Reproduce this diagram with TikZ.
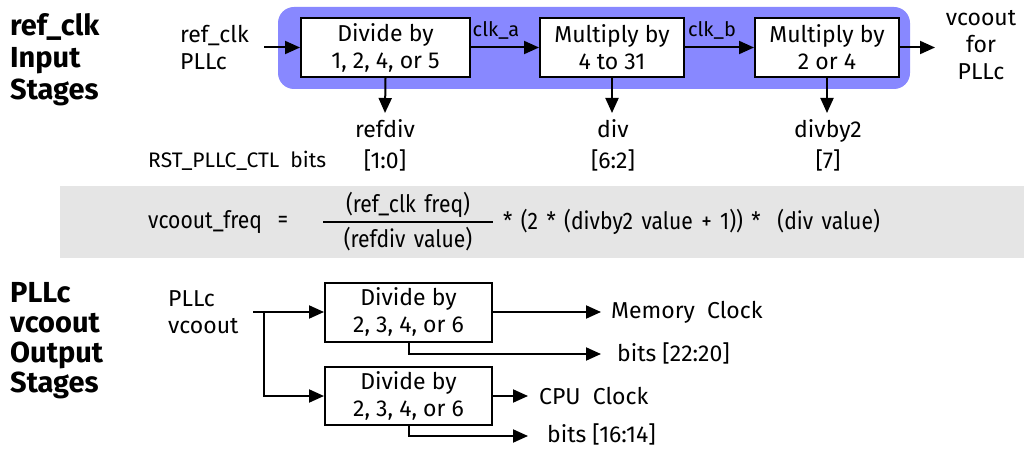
\documentclass[tikz,border=0pt]{standalone}
\usepackage{fontspec}
\setmainfont{Fira Sans}
\newfontfamily\narrowfont{Fira Sans}[FakeStretch=0.88, WordSpace=1.5]
\usetikzlibrary{arrows.meta}
\usetikzlibrary{positioning}
\definecolor{stageblue}{RGB}{136,136,255}
\definecolor{formulagray}{RGB}{229,229,229}
\tikzset {
  wire/.style = {
    draw = black,
    line width = 2pt
  },
  % wire ending in a filled triangle
  sig/.style = {
    wire,
    -{Triangle[length=15pt,width=13pt]}
  }
}
\tikzset {
  % processing stage
  stage/.style = {
    draw = black,
    fill = white,
    line width = 2pt,
    rectangle,
    align = center,
    inner sep = 0,
    minimum height = 59pt,
    font = \fontsize{23}{27}\selectfont
  },
  % plain text label
  lbl/.style = {
    inner sep = 0,
    align = center,
    font = \fontsize{23}{27}\selectfont
  },
  small/.style = {
    inner sep = 0,
    font = \fontsize{20}{22}\selectfont
  },
  % bold heading at the left
  heading/.style = {
    inner sep = 0,
    align = left,
    anchor = north west,
    font = \fontsize{29}{32}\selectfont\bfseries
  },
  formula/.style = {
    inner sep = 0,
    font = \fontsize{24}{26}\narrowfont
  }
}

\begin{document}
\begin{tikzpicture}[x=1pt, y=-1pt]
    \useasboundingbox (0,0) rectangle (1024,449);

    % backgrounds
    \fill[stageblue, rounded corners=16pt] (278,7) rectangle (910,89);
    \fill[formulagray] (60,186) rectangle (1024,258);

    % input stages
    \node[heading] (in-head) at (10,13) {ref\_clk\\Input\\Stages};
    \node[stage, minimum width=169pt] (refdiv-box) at (385.5,47.5) {Divide by\\1, 2, 4, or 5};
    \node[stage, minimum width=144pt] (div-box) at (612,47.5) {Multiply by\\4 to 31};
    \node[stage, minimum width=144pt] (divby2-box) at (827,47.5) {Multiply by\\2 or 4};
    \node[lbl, align=left, anchor=west] (in-src) at (180,48) {ref\_clk\\PLLc};
    \coordinate (in-start) at (264,47.5);
    \coordinate (in-end) at (935,47.5);
    \node[lbl] (vcoout-lbl) at (981,45) {vcoout\\for\\PLLc};
    \node[small] (clk-a) at (496,30) {clk\_a};
    \node[small] (clk-b) at (712,30) {clk\_b};

    \node[lbl, font=\fontsize{23}{31}\selectfont] (refdiv-lbl) at (385,145) {refdiv\\{}[1:0]};
    \node[lbl, font=\fontsize{23}{31}\selectfont] (div-lbl) at (613,145) {div\\{}[6:2]};
    \node[lbl, font=\fontsize{23}{31}\selectfont] (divby2-lbl) at (828,145) {divby2\\{}[7]};
    \node[small, anchor=west, font=\fontsize{21}{23}\selectfont] (bits-lbl) at (148,161) {RST\_PLLC\_CTL\ \ bits};

    \draw[sig] (in-start) -- (refdiv-box);
    \draw[sig] (refdiv-box) -- (div-box);
    \draw[sig] (div-box) -- (divby2-box);
    \draw[sig] (divby2-box) -- (in-end);
    \draw[sig] (refdiv-box.south) -- (385,113);
    \draw[sig] (div-box.south) -- (612,113);
    \draw[sig] (divby2-box.south) -- (827,113);

    % formula
    \node[formula, anchor=west] (freq) at (148,222) {vcoout\_freq};
    \node[formula] (equals) at (283,222) {=};
    \node[formula] (numer) at (408,205) {(ref\_clk\ freq)};
    \node[formula] (denom) at (408,239) {(refdiv\ value)};
    \draw[line width=2pt] (323,222) -- (493,222);
    \node[formula, anchor=west] (rest) at (503,222) {*\ (2\ *\ (divby2 value + 1))\ *\ \ (div value)};

    % output stages
    \node[heading, font=\fontsize{29}{30}\selectfont\bfseries] (out-head) at (10,282) {PLLc\\vcoout\\Output\\Stages};
    \node[lbl, align=left, anchor=west] (out-src) at (168,312) {PLLc\\vcoout};
    \node[stage, minimum width=167pt] (mem-box) at (408.5,312) {Divide by\\2, 3, 4, or 6};
    \node[stage, minimum width=167pt, minimum height=58pt] (cpu-box) at (408.5,396) {Divide by\\2, 3, 4, or 6};
    \coordinate (out-start) at (253,312);
    \coordinate (out-split) at (264,312);
    \coordinate (mem-clk) at (601,312);
    \coordinate (mem-bits) at (601,354);
    \coordinate (cpu-clk) at (528,396);
    \coordinate (cpu-bits) at (528,436);
    \node[lbl, anchor=west] (mem-clk-lbl) at (611,312) {Memory\ \ Clock};
    \node[lbl, anchor=west] (mem-bits-lbl) at (617,353) {bits [22:20]};
    \node[lbl, anchor=west] (cpu-clk-lbl) at (539,396) {CPU\ \ Clock};
    \node[lbl, anchor=west] (cpu-bits-lbl) at (547,434) {bits [16:14]};

    \draw[wire] (out-start) -- (out-split);
    \draw[sig] (out-split) -- (mem-box);
    \draw[sig] (out-split) |- (cpu-box);
    \draw[sig] (mem-box) -- (mem-clk);
    \draw[sig] (mem-box.south) |- (mem-bits);
    \draw[sig] (cpu-box) -- (cpu-clk);
    \draw[sig] (cpu-box.south) |- (cpu-bits);
\end{tikzpicture}
\end{document}
